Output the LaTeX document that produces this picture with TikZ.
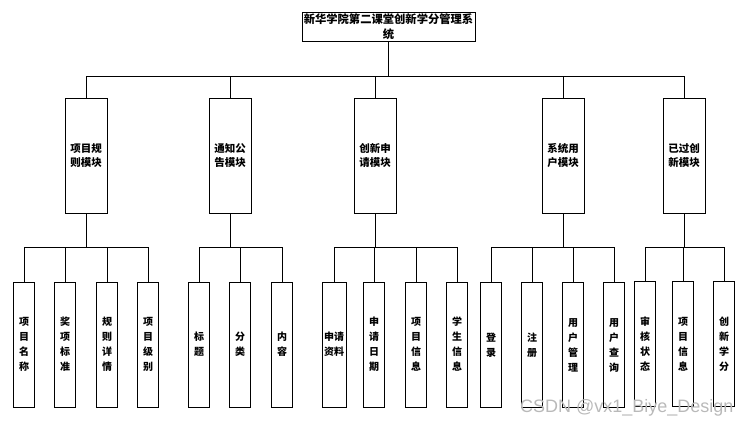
\documentclass[tikz,border=0pt]{standalone}
\usepackage{fontspec}
\setmainfont{Liberation Sans}
\newfontfamily\cjk{Noto Sans CJK SC}
\usetikzlibrary{positioning,calc}

\begin{document}
\begin{tikzpicture}[x=1pt, y=-1pt,
    box/.style={draw, line width=0.8pt, inner sep=0pt, align=center},
    titlebox/.style={box, minimum width=173pt, minimum height=29pt, font=\cjk\bfseries\fontsize{11.3}{15}\selectfont},
    module/.style={box, minimum width=42pt, minimum height=115pt, font=\cjk\bfseries\fontsize{10.5}{14}\selectfont},
    leaf/.style={box, minimum width=21pt, minimum height=125pt, font=\cjk\bfseries\fontsize{10}{15}\selectfont},
    link/.style={line width=0.8pt}
]
\useasboundingbox (0,0) rectangle (751,429);

% Title
\node[titlebox] (title) at (388.5,26.5) {新华学院第二课堂创新学分管理系\\统};

% Modules
\node[module] (rule)   at (86,155.5)  {项目规\\则模块};
\node[module] (notice) at (230,155.5) {通知公\\告模块};
\node[module] (apply)  at (375,155.5) {创新申\\请模块};
\node[module] (user)   at (563,155.5) {系统用\\户模块};
\node[module] (passed) at (684,155.5) {已过创\\新模块};

% Title to modules
\draw[link] (title.south) -- ++(0,35) coordinate (bus);
\foreach \m in {rule,notice,apply,user,passed}
    \draw[link] (bus) -| (\m.north);

% Leaves: project rules
\node[leaf] (rule1) at (24,344.5)  {项\\目\\名\\称};
\node[leaf] (rule2) at (65,344.5)  {奖\\项\\标\\准};
\node[leaf] (rule3) at (107,344.5) {规\\则\\详\\情};
\node[leaf] (rule4) at (148,344.5) {项\\目\\级\\别};

% Leaves: notices
\node[leaf] (notice1) at (199,344.5) {标\\题};
\node[leaf] (notice2) at (240,344.5) {分\\类};
\node[leaf] (notice3) at (282,344.5) {内\\容};

% Leaves: applications
\node[leaf, minimum width=24pt] (apply1) at (334,344.5) {申请\\资料};
\node[leaf] (apply2) at (374,344.5) {申\\请\\日\\期};
\node[leaf] (apply3) at (416,344.5) {项\\目\\信\\息};
\node[leaf] (apply4) at (457,344.5) {学\\生\\信\\息};

% Leaves: system users
\node[leaf] (user1) at (491,345) {登\\录};
\node[leaf] (user2) at (532,345) {注\\册};
\node[leaf] (user3) at (573,345) {用\\户\\管\\理};
\node[leaf] (user4) at (614,345) {用\\户\\查\\询};

% Leaves: passed projects
\node[leaf] (passed1) at (645,344) {审\\核\\状\\态};
\node[leaf] (passed2) at (683,344) {项\\目\\信\\息};
\node[leaf] (passed3) at (724,344) {创\\新\\学\\分};

% Modules to leaves
\draw[link] (rule.south) -- ++(0,34) coordinate (rulebus);
\foreach \l in {1,...,4}
    \draw[link] (rulebus) -| (rule\l.north);
\draw[link] (notice.south) -- ++(0,34) coordinate (noticebus);
\foreach \l in {1,...,3}
    \draw[link] (noticebus) -| (notice\l.north);
\draw[link] (apply.south) -- ++(0,34) coordinate (applybus);
\foreach \l in {1,...,4}
    \draw[link] (applybus) -| (apply\l.north);
\draw[link] (user.south) -- ++(0,34) coordinate (userbus);
\foreach \l in {1,...,4}
    \draw[link] (userbus) -| (user\l.north);
\draw[link] (passed.south) -- ++(0,34) coordinate (passedbus);
\foreach \l in {1,...,3}
    \draw[link] (passedbus) -| (passed\l.north);

% Watermark
\node[text=gray!55, font=\fontsize{18}{18}\selectfont, anchor=east] (mark) at (737,408) {CSDN @vx1\_Biye\_Design};
\end{tikzpicture}
\end{document}
